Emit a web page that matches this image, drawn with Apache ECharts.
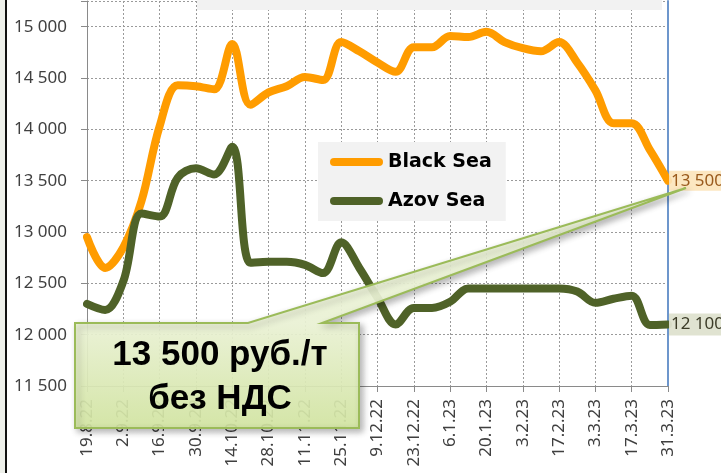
<!DOCTYPE html>
<html>
<head>
<meta charset="utf-8">
<title>Black Sea / Azov Sea</title>
<script src="https://cdn.jsdelivr.net/npm/echarts@6/dist/echarts.min.js"></script>
<style>
  html, body { margin: 0; padding: 0; background: #fff; }
  #chart { width: 721px; height: 473px; }
</style>
</head>
<body>
<div id="chart"></div>
<script>
// weekly dates, every other one is labelled
const dates = ['19.8.22', '26.8.22', '2.9.22', '9.9.22', '16.9.22', '23.9.22', '30.9.22', '7.10.22',
  '14.10.22', '21.10.22', '28.10.22', '4.11.22', '11.11.22', '18.11.22', '25.11.22', '2.12.22',
  '9.12.22', '16.12.22', '23.12.22', '30.12.22', '6.1.23', '13.1.23', '20.1.23', '27.1.23',
  '3.2.23', '10.2.23', '17.2.23', '24.2.23', '3.3.23', '10.3.23', '17.3.23', '24.3.23', '31.3.23']

const blackSea = [12950, 12650, 12850, 13300, 14030, 14430, 14420, 14390, 14830, 14240, 14360,
  14420, 14510, 14480, 14850, 14760, 14650, 14560, 14800, 14800, 14910, 14900, 14950, 14850,
  14790, 14760, 14850, 14650, 14380, 14060, 14060, 13800, 13500]

const azovSea = [12300, 12240, 12520, 13180, 13150, 13530, 13620, 13560, 13830, 12700, 12710,
  12710, 12680, 12600, 12900, 12650, 12360, 12100, 12260, 12260, 12320, 12450, 12450, 12450,
  12450, 12450, 12450, 12420, 12310, 12350, 12380, 12095, 12100]

const seriesNames = ['Black Sea', 'Azov Sea']
const yMin = 11500
const yMax = 15250
const yStep = 500
const calloutText = '13 500 руб./т\nбез НДС'

function fmt(v) {
  return String(v).replace(/\B(?=(\d{3})+(?!\d))/g, ' ')
}

const chart = echarts.init(document.getElementById('chart'), null, { renderer: 'canvas' })
const last = blackSea.length - 1
const pill = 'path://M4,0 L49,0 A4,4 0 0 1 49,8 L4,8 A4,4 0 0 1 4,0 Z'

chart.setOption({
  animation: false,
  backgroundColor: '#fff',
  textStyle: { fontFamily: 'Noto Sans' },
  grid: { left: 87, right: 53, top: 1, bottom: 87 },
  legend: {
    data: seriesNames,
    orient: 'vertical',
    left: 318,
    top: 142,
    padding: [10, 14, 10, 12],
    backgroundColor: '#f2f2f2',
    itemWidth: 53,
    itemHeight: 8,
    itemGap: 19,
    icon: pill,
    textStyle: {
      fontFamily: 'DejaVu Sans',
      fontWeight: 'bold',
      fontSize: 19,
      color: '#000',
      lineHeight: 20
    }
  },
  xAxis: {
    type: 'category',
    data: dates,
    boundaryGap: false,
    axisLine: { lineStyle: { color: '#8a8a8a', width: 1 } },
    axisTick: { show: true, interval: 1, length: 6, lineStyle: { color: '#8a8a8a' } },
    axisLabel: { interval: 1, rotate: 90, margin: 13, fontSize: 17, color: '#404040' },
    splitLine: { show: true, interval: 1, lineStyle: { color: '#9a9a9a', type: [2, 2], width: 1 } }
  },
  yAxis: [{
    type: 'value',
    min: yMin,
    max: yMax,
    interval: yStep,
    axisLine: { show: true, lineStyle: { color: '#8a8a8a', width: 1 } },
    axisTick: { show: true, length: 6, lineStyle: { color: '#8a8a8a' } },
    axisLabel: {
      margin: 20,
      fontSize: 17,
      color: '#404040',
      formatter: v => (v > 15000 ? '' : fmt(v))
    },
    splitLine: { show: true, lineStyle: { color: '#9a9a9a', type: [2, 2], width: 1 } }
  }, {
    type: 'value',
    position: 'right',
    min: yMin,
    max: yMax,
    interval: yStep,
    axisLine: { show: true, lineStyle: { color: '#6d96cc', width: 2 } },
    axisTick: { show: false },
    axisLabel: { show: false },
    splitLine: { show: false }
  }],
  series: [{
    name: seriesNames[0],
    type: 'line',
    data: blackSea,
    smooth: 0.35,
    showSymbol: false,
    color: '#ff9c00',
    lineStyle: { width: 8, cap: 'round', join: 'round' },
    endLabel: {
      show: true,
      distance: 1,
      formatter: () => fmt(blackSea[last]),
      color: '#9a5a1c',
      fontSize: 17,
      backgroundColor: 'rgba(252, 228, 186, 0.9)',
      padding: [2, 4, 1, 2]
    }
  }, {
    name: seriesNames[1],
    type: 'line',
    data: azovSea,
    smooth: 0.35,
    showSymbol: false,
    color: '#4f6228',
    lineStyle: { width: 8, cap: 'round', join: 'round' },
    endLabel: {
      show: true,
      distance: 1,
      formatter: () => fmt(azovSea[last]),
      color: '#3c3c28',
      fontSize: 17,
      backgroundColor: 'rgba(222, 226, 207, 0.95)',
      padding: [3, 4, 2, 2]
    }
  }],
  graphic: [
    // cut-off title box at the top
    { type: 'rect', left: 197, top: 0, shape: { width: 465, height: 10 }, style: { fill: '#f2f2f2' }, z: 1 },
    // left border strip
    { type: 'rect', left: 0, top: 0, shape: { width: 6, height: 473 }, style: { fill: '#eef0ea' }, z: 1 },
    { type: 'line', shape: { x1: 6, y1: 0, x2: 6, y2: 473 }, style: { stroke: '#111', lineWidth: 2 }, z: 1 },
    // callout with pointer
    {
      type: 'polygon',
      z: 100,
      shape: {
        points: [[75, 323], [248, 323], [686, 188], [322, 323], [359, 323], [359, 428], [75, 428]]
      },
      style: {
        fill: new echarts.graphic.LinearGradient(0, 323, 0, 428, [
          { offset: 0, color: 'rgba(240, 248, 218, 0.9)' },
          { offset: 1, color: 'rgba(215, 234, 165, 0.9)' }
        ], true),
        stroke: '#9bbb59',
        lineWidth: 2,
        shadowBlur: 6,
        shadowOffsetX: 3,
        shadowOffsetY: 3,
        shadowColor: 'rgba(0, 0, 0, 0.3)'
      }
    },
    {
      type: 'text',
      z: 101,
      x: 220,
      y: 377,
      style: {
        text: calloutText,
        fontFamily: 'Liberation Sans',
        fontWeight: 'bold',
        fontSize: 35,
        lineHeight: 44,
        fill: '#000',
        align: 'center',
        verticalAlign: 'middle'
      }
    }
  ]
})
</script>
</body>
</html>
